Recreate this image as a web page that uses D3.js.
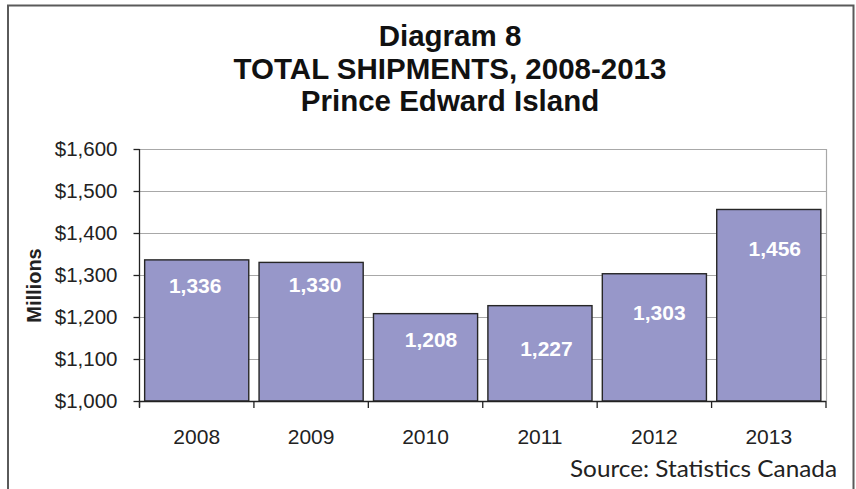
<!DOCTYPE html>
<html>
<head>
<meta charset="utf-8">
<script src="https://cdn.jsdelivr.net/npm/d3@7"></script>
<style>
  html, body { margin: 0; padding: 0; background: #fff; }
  svg { display: block; }
</style>
</head>
<body>
<svg id="chart" width="856" height="489"></svg>
<script>
// ---- data ----
const titleLines = ["Diagram 8", "TOTAL SHIPMENTS, 2008-2013", "Prince Edward Island"];
const years = ["2008", "2009", "2010", "2011", "2012", "2013"];
const shipments = [1336, 1330, 1208, 1227, 1303, 1456];
const yTicks = [1000, 1100, 1200, 1300, 1400, 1500, 1600];
const yAxisTitle = "Millions";
const sourceNote = "Source: Statistics Canada";

// ---- layout (label nudges as placed in the original, px) ----
const labelDx = [-1.5, 4, 5.5, 6.5, 5, 6];
const labelDy = [33.4, 29.9, 33.1, 50, 46.3, 46.5];

const svg = d3.select("#chart");
const m = { left: 139.5, right: 826, top: 149, bottom: 401 };

// outer frame
svg.append("path")
  .attr("d", "M8,495 L8,5.5 L853.5,5.5 L853.5,495")
  .attr("fill", "none").attr("stroke", "#5a5a5a").attr("stroke-width", 2);

// title
svg.append("g").selectAll("text").data(titleLines).join("text")
  .attr("x", 450).attr("y", (d, i) => 46 + i * 32.5)
  .attr("text-anchor", "middle")
  .attr("font-family", "Liberation Sans, Arial, sans-serif")
  .attr("font-weight", "bold").attr("font-size", 29.5)
  .attr("fill", "#111")
  .text(d => d);

const x = d3.scaleBand().domain(years).range([m.left, m.right])
  .paddingInner(0.09).paddingOuter(0.045);
const y = d3.scaleLinear().domain([1000, 1600]).range([m.bottom, m.top]);

// gridlines
svg.append("g").selectAll("line").data(yTicks.slice(1)).join("line")
  .attr("x1", m.left).attr("x2", m.right)
  .attr("y1", d => Math.round(y(d)) + 0.5).attr("y2", d => Math.round(y(d)) + 0.5)
  .attr("stroke", "#a8a8a8").attr("stroke-width", 1.2);
// plot right border
svg.append("line")
  .attr("x1", m.right + 0.5).attr("x2", m.right + 0.5)
  .attr("y1", m.top).attr("y2", m.bottom)
  .attr("stroke", "#a8a8a8").attr("stroke-width", 1.2);

// bars
svg.append("g").selectAll("rect").data(shipments).join("rect")
  .attr("x", (d, i) => x(years[i]))
  .attr("width", x.bandwidth())
  .attr("y", d => y(d))
  .attr("height", d => m.bottom - y(d))
  .attr("fill", "#9797c9")
  .attr("stroke", "#262626").attr("stroke-width", 1.4);

// value labels
svg.append("g").selectAll("text").data(shipments).join("text")
  .attr("x", (d, i) => x(years[i]) + x.bandwidth() / 2 + labelDx[i])
  .attr("y", (d, i) => y(d) + labelDy[i])
  .attr("text-anchor", "middle")
  .attr("font-family", "Liberation Sans, Arial, sans-serif")
  .attr("font-weight", "bold").attr("font-size", 21)
  .attr("fill", "#ffffff")
  .text(d => d3.format(",")(d));

// y axis
const yAxis = d3.axisLeft(y).tickValues(yTicks)
  .tickFormat(d => "$" + d3.format(",")(d))
  .tickSize(6).tickPadding(16);
const gy = svg.append("g").attr("transform", `translate(${m.left},0)`).call(yAxis);
gy.select(".domain").attr("d", `M0,${m.top}V${m.bottom + 6}`).attr("stroke", "#222").attr("stroke-width", 1.3);
gy.selectAll(".tick line").attr("stroke", "#222").attr("stroke-width", 1.3);
gy.selectAll(".tick text")
  .attr("font-family", "Liberation Sans, Arial, sans-serif")
  .attr("font-size", 20.5).attr("fill", "#222");

// x axis
const xAxis = d3.axisBottom(x).tickSize(0).tickPadding(0);
const gx = svg.append("g").attr("transform", `translate(0,${m.bottom})`).call(xAxis);
gx.select(".domain").attr("d", `M${m.left},0.5H${m.right}`).attr("stroke", "#222").attr("stroke-width", 1.4);
gx.selectAll(".tick text")
  .attr("dy", null).attr("y", 43)
  .attr("font-family", "Liberation Sans, Arial, sans-serif")
  .attr("font-size", 21).attr("fill", "#222");
// category boundary ticks
const bounds = years.map(d => x(d) - x.step() * 0.045).concat([m.right]);
gx.append("g").selectAll("line").data(bounds).join("line")
  .attr("x1", d => d).attr("x2", d => d)
  .attr("y1", 0).attr("y2", 7)
  .attr("stroke", "#222").attr("stroke-width", 1.3);

// y axis title
svg.append("text")
  .attr("transform", "translate(41,285.5) rotate(-90)")
  .attr("text-anchor", "middle")
  .attr("font-family", "Liberation Sans, Arial, sans-serif")
  .attr("font-weight", "bold").attr("font-size", 20)
  .attr("fill", "#222")
  .text(yAxisTitle);

// source
svg.append("text")
  .attr("x", 837).attr("y", 476.5)
  .attr("text-anchor", "end")
  .attr("font-family", "Lato, 'Open Sans', sans-serif")
  .attr("font-size", 22.5)
  .attr("textLength", 267).attr("lengthAdjust", "spacingAndGlyphs")
  .attr("fill", "#222")
  .text(sourceNote);
</script>
</body>
</html>
